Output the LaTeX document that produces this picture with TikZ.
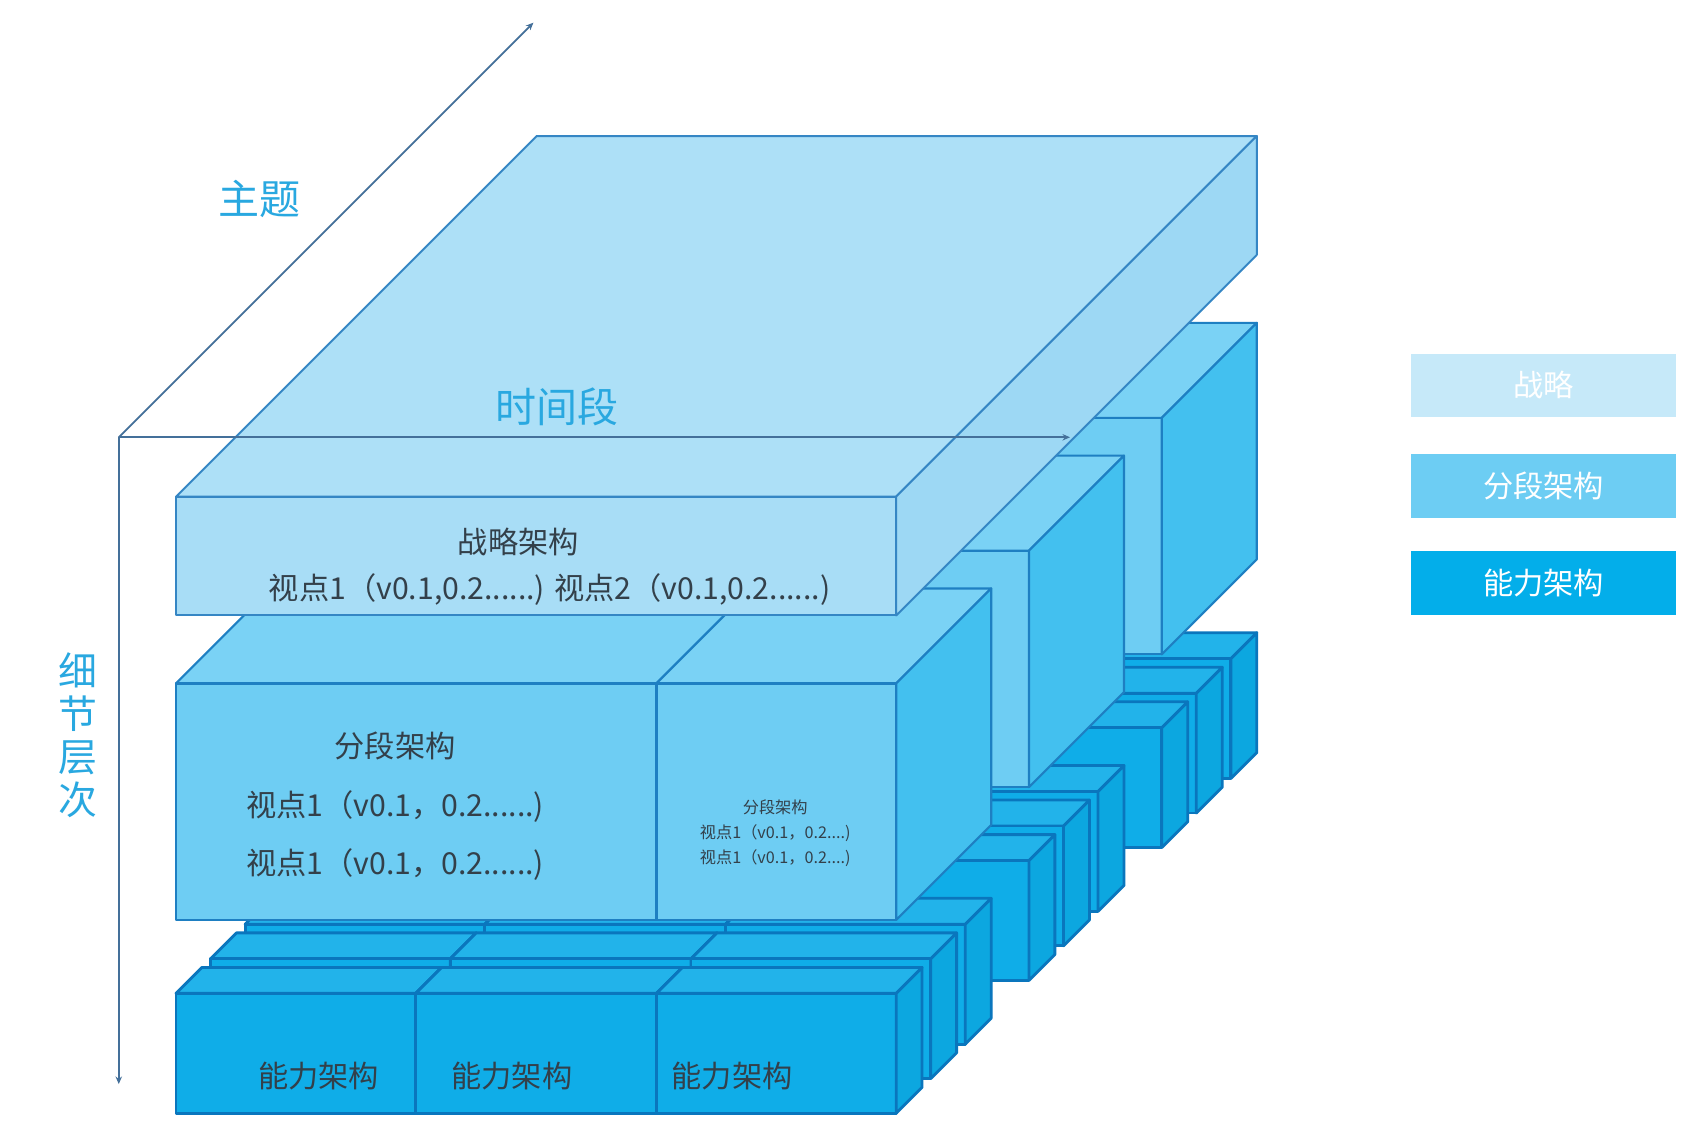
\documentclass[tikz,border=0pt]{standalone}
\usepackage{fontspec}
\newfontfamily\cjk{Noto Sans CJK SC}
\usetikzlibrary{arrows.meta}
\definecolor{slabtop}{HTML}{ADE0F7}
\definecolor{slabfront}{HTML}{A8DDF6}
\definecolor{slabright}{HTML}{9DD8F4}
\definecolor{slabline}{HTML}{3586C4}
\definecolor{midtop}{HTML}{7AD2F5}
\definecolor{midfront}{HTML}{6ECDF3}
\definecolor{midright}{HTML}{43C0EF}
\definecolor{midline}{HTML}{1E7FC2}
\definecolor{captop}{HTML}{22B3EA}
\definecolor{capfront}{HTML}{0FADE8}
\definecolor{capright}{HTML}{0CA7E0}
\definecolor{capline}{HTML}{0A76BD}
\definecolor{axisline}{HTML}{44709A}
\definecolor{axistext}{HTML}{29A8E0}
\definecolor{boxtext}{HTML}{33404A}
\definecolor{legA}{HTML}{C6E9F9}
\definecolor{legB}{HTML}{6DCDF3}
\definecolor{legC}{HTML}{03AEEA}
\tikzset{
  slab edge/.style={draw=slabline,line width=1.8pt,line join=round},
  mid edge/.style={draw=midline,line width=2pt,line join=round},
  cap edge/.style={draw=capline,line width=2.6pt,line join=round},
  axis/.style={draw=axisline,line width=1.6pt,-{Stealth[length=7pt,width=6pt]}},
  axislabel/.style={text=axistext,font=\cjk\fontsize{38}{40}\selectfont,inner sep=0pt},
  boxlabel/.style={text=boxtext,font=\cjk\fontsize{28}{30}\selectfont,inner sep=0pt},
  smalllabel/.style={text=boxtext,font=\cjk\fontsize{15}{23}\selectfont,inner sep=0pt,align=center},
  legendbox/.style={minimum width=246pt,minimum height=59pt,inner sep=0pt,text=white,font=\cjk\fontsize{28}{30}\selectfont}
}
% x1, x2, Ytop, Ybottom, z, depth, layer
\newcommand\drawblock[7]{%
  \filldraw[#7 edge,fill=#7top] ({#1+#5},{#3-#5}) -- ({#2+#5},{#3-#5}) -- ({#2+#5+#6},{#3-#5-#6}) -- ({#1+#5+#6},{#3-#5-#6}) -- cycle;
  \filldraw[#7 edge,fill=#7front] ({#1+#5},{#3-#5}) rectangle ({#2+#5},{#4-#5});
  \filldraw[#7 edge,fill=#7right] ({#2+#5},{#3-#5}) -- ({#2+#5+#6},{#3-#5-#6}) -- ({#2+#5+#6},{#4-#5-#6}) -- ({#2+#5},{#4-#5}) -- cycle;
}
\newcommand\caprow[1]{%
  \drawblock{163}{385}{920}{1031}{#1}{24}{cap}
  \drawblock{385}{608}{920}{1031}{#1}{24}{cap}
  \drawblock{608}{830}{920}{1031}{#1}{24}{cap}
}
\newcommand\midrow[1]{%
  \drawblock{163}{608}{633}{852}{#1}{88}{mid}
  \drawblock{608}{830}{633}{852}{#1}{88}{mid}
}
\begin{document}
\begin{tikzpicture}[x=1pt,y=-1pt]
\useasboundingbox[fill=white] (0,0) rectangle (1568,1046);

% back group
\caprow{310}
\caprow{278}
\caprow{246}
\midrow{246}
% middle group
\caprow{187}
\caprow{155}
\caprow{123}
\midrow{123}
% front group
\caprow{64}
\caprow{32}
\caprow{0}
\midrow{0}

% labels on front faces
\node[boxlabel] (cap1) at (295,997) {能力架构};
\node[boxlabel] (cap2) at (474,997) {能力架构};
\node[boxlabel] (cap3) at (678,997) {能力架构};
\node[boxlabel] (mid1) at (366,691) {分段架构};
\node[boxlabel] (mid2) at (366,747) {视点1（v0.1，0.2......)};
\node[boxlabel] (mid3) at (366,801) {视点1（v0.1，0.2......)};
\node[smalllabel] (mids) at (718,772) {分段架构\\视点1（v0.1，0.2....)\\视点1（v0.1，0.2....)};

% top slab
\drawblock{163}{830}{460}{570}{0}{334}{slab}
\node[boxlabel] (slab1) at (480,502) {战略架构};
\node[boxlabel] (slab2) at (509,546) {视点1（v0.1,0.2......) 视点2（v0.1,0.2......)};

% axes
\coordinate (O) at (110,405);
\coordinate (down) at (110,1004);
\coordinate (diag) at (494,21);
\coordinate (right) at (991,405);
\draw[axis] (O) -- (down);
\draw[axis] (O) -- (diag);
\draw[axis] (O) -- (right);
\node[axislabel] (ltheme) at (240,184) {主题};
\node[axislabel] (ltime) at (516,377) {时间段};
\node[axislabel,align=center,font=\cjk\fontsize{36}{40}\selectfont] (llevel) at (72,681) {细\\节\\层\\次};

% legend
\node[legendbox,fill=legA] (leg1) at (1429.5,357) {战略};
\node[legendbox,fill=legB] (leg2) at (1429.5,450) {分段架构};
\node[legendbox,fill=legC] (leg3) at (1429.5,540) {能力架构};
\end{tikzpicture}
\end{document}
